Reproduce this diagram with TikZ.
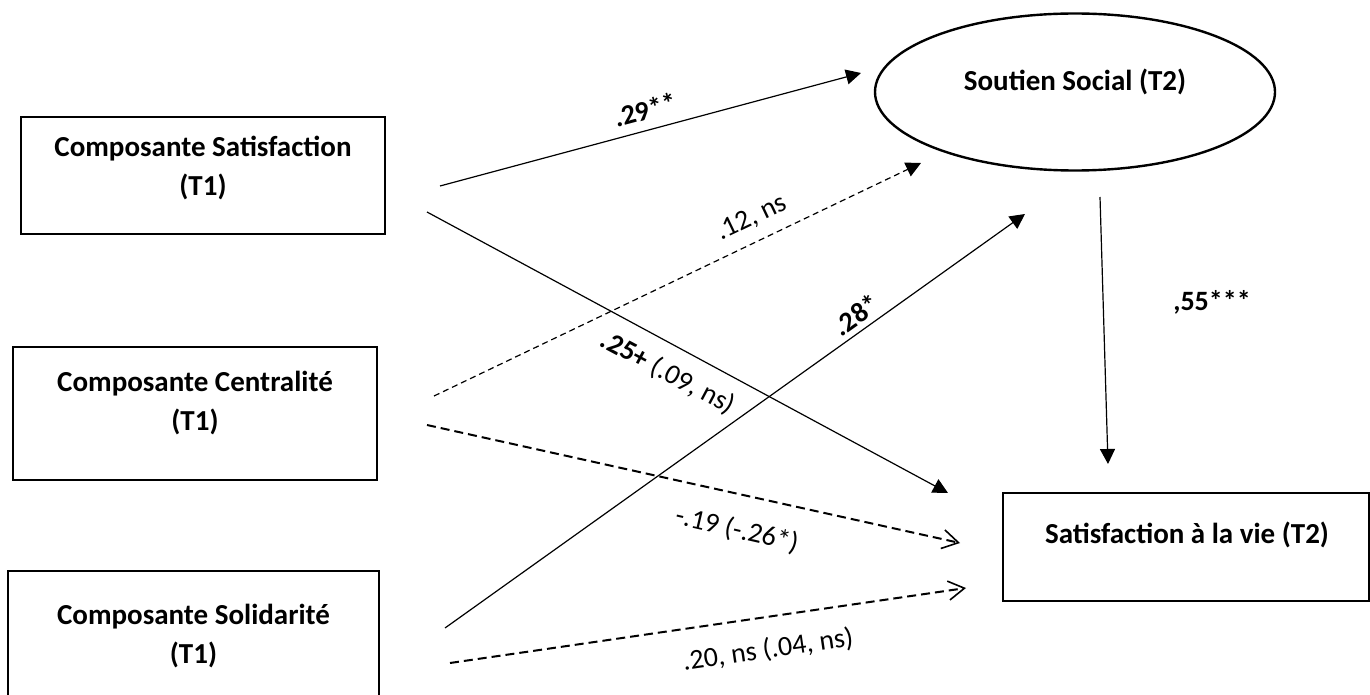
\documentclass[tikz,border=0pt]{standalone}
\usepackage{fontspec}
\setmainfont{Carlito}
\usetikzlibrary{arrows.meta,shapes.geometric,calc}
\begin{document}
\begin{tikzpicture}[x=1pt,y=-1pt,
  box/.style={draw, line width=2.4pt, rectangle, inner sep=0pt},
  ell/.style={draw, line width=2.4pt, ellipse, inner sep=0pt, minimum width=400pt, minimum height=157pt},
  btxt/.style={font=\fontsize{29}{39}\selectfont\bfseries, align=center, inner sep=0pt},
  lab/.style={font=\fontsize{28}{34}\selectfont, inner sep=0pt},
  blab/.style={font=\fontsize{28}{34}\selectfont\bfseries, inner sep=0pt},
  solidarr/.style={line width=1.2pt, -{Triangle[length=15pt,width=15pt]}},
  thindash/.style={line width=1.2pt, dash pattern=on 6pt off 4pt, -{Triangle[length=15pt,width=15pt]}},
  thickdash/.style={line width=2pt, dash pattern=on 9pt off 5pt, -{Straight Barb[length=16pt,width=19pt,line width=1.6pt]}},
]
\useasboundingbox (0,0) rectangle (1370,695);
\clip (0,0) rectangle (1370,695);

% boxes
\node[box, minimum width=364pt, minimum height=117pt] (b1) at (203,175.5) {};
\node[btxt] (t1) at (203,168) {Composante Satisfaction\\(T1)};
\node[box, minimum width=364pt, minimum height=133pt] (b2) at (195,413.5) {};
\node[btxt] (t2) at (195,403) {Composante Centralité\\(T1)};
\node[box, minimum width=371pt, minimum height=169pt] (b3) at (193.5,655.5) {};
\node[btxt] (t3) at (193.5,636) {Composante Solidarité\\(T1)};
\node[ell] (ss) at (1075,92) {};
\node[btxt] (sst) at (1075,82) {Soutien Social (T2)};
\node[box, minimum width=366pt, minimum height=108pt] (b4) at (1186,547) {};
\node[btxt] (t4) at (1187,535) {Satisfaction à la vie (T2)};

% connector ends
\coordinate (s1a) at (440,186);
\coordinate (s1b) at (427,212);
\coordinate (s2a) at (434,396);
\coordinate (s2b) at (427,425);
\coordinate (s3a) at (445,628);
\coordinate (s3b) at (450,663);
\coordinate (e1) at (861,73);
\coordinate (e2) at (921,163);
\coordinate (e3) at (948,493);
\coordinate (e4) at (1025,214);
\coordinate (e5) at (960,543);
\coordinate (e6) at (966,588);
\coordinate (e7a) at (1100,197);
\coordinate (e7b) at (1108,464);

% connectors
\draw[solidarr] (s1a) -- (e1);
\draw[thindash] (s2a) -- (e2);
\draw[solidarr] (s1b) -- (e3);
\draw[solidarr] (s3a) -- (e4);
\draw[thickdash] (s2b) -- (e5);
\draw[thickdash] (s3b) -- (e6);
\draw[solidarr] (e7a) -- (e7b);

% labels
\node[blab, rotate=15] (l1) at (645,110) {.29**};
\node[lab, rotate=25.5] (l2) at (752,218) {.12, ns};
\node[lab, rotate=-28] (l3) at (668,373) {\textbf{.25+} (.09, ns)};
\node[blab, rotate=35.5] (l4) at (856,315) {.28*};
\node[lab, rotate=-13] (l5) at (737,530) {-.19 (-.26*)};
\node[lab, rotate=8.3] (l6) at (768,650) {.20, ns (.04, ns)};
\node[blab] (l7) at (1212,302) {,55***};
\end{tikzpicture}
\end{document}
